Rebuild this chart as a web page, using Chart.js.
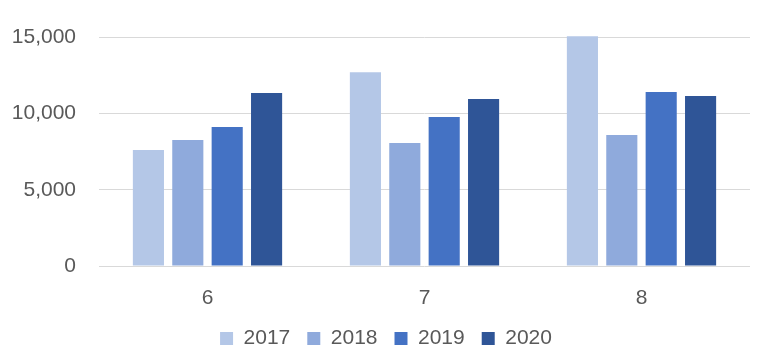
<!DOCTYPE html>
<html>
<head>
<meta charset="utf-8">
<script src="https://cdn.jsdelivr.net/npm/chart.js@4"></script>
<style>
html,body{margin:0;padding:0;background:#fff;}
#wrap{width:764px;height:364px;position:relative;}
</style>
</head>
<body>
<div id="wrap"><canvas id="c" width="764" height="364"></canvas></div>
<script>
const categories = ["6", "7", "8"];
const seriesNames = ["2017", "2018", "2019", "2020"];
const v2017 = [7600, 12700, 15060];
const v2018 = [8260, 8060, 8590];
const v2019 = [9110, 9770, 11400];
const v2020 = [11340, 10940, 11140];
const yTicks = [0, 5000, 10000, 15000];
const colors = ["#B4C7E7", "#8FAADC", "#4472C4", "#2F5597"];

const values = [v2017, v2018, v2019, v2020];
const FONT = "'Liberation Sans', Arial, sans-serif";

const legendShift = {
  id: 'legendShift',
  afterLayout(chart) {
    const l = chart.legend;
    if (l) { l.left += 11; l.right += 11; }
  }
};

new Chart(document.getElementById('c'), {
  type: 'bar',
  data: {
    labels: categories,
    datasets: seriesNames.map((n, i) => ({
      label: n,
      data: values[i],
      backgroundColor: colors[i],
      borderWidth: 0,
      categoryPercentage: 0.726,
      barPercentage: 0.79
    }))
  },
  plugins: [legendShift],
  options: {
    responsive: false,
    animation: false,
    layout: { padding: { left: 0, right: 14, top: 34, bottom: 5 } },
    plugins: {
      tooltip: { enabled: false },
      legend: {
        position: 'bottom',
        labels: {
          boxWidth: 13, boxHeight: 13, padding: 17,
          color: '#595959',
          font: { family: FONT, size: 21 }
        }
      }
    },
    scales: {
      x: {
        afterFit: s => { s.height = 45; },
        grid: { display: false, drawTicks: false },
        border: { display: false },
        ticks: { color: '#595959', font: { family: FONT, size: 21 }, padding: 20 }
      },
      y: {
        min: 0, max: 15100,
        afterFit: s => { s.width = 99; },
        afterBuildTicks: s => { s.ticks = yTicks.map(v => ({ value: v })); },
        grid: { color: '#D9D9D9', lineWidth: 1, drawTicks: false },
        border: { display: false },
        ticks: {
          color: '#595959', font: { family: FONT, size: 21 }, padding: 23,
          callback: v => v.toLocaleString('en-US')
        }
      }
    }
  }
});
</script>
</body>
</html>
